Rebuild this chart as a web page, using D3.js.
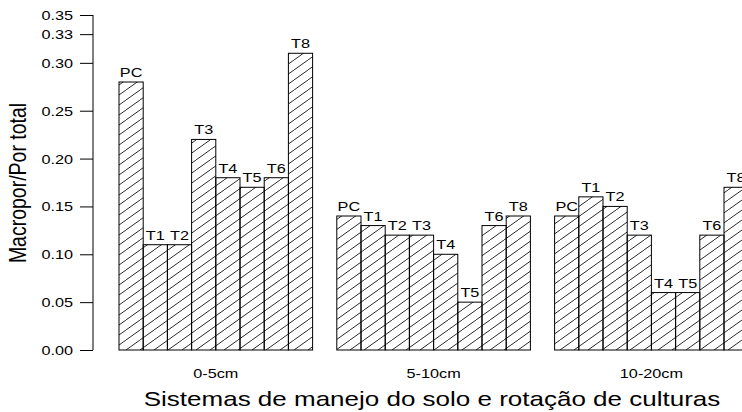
<!DOCTYPE html>
<html>
<head>
<meta charset="utf-8">
<script src="https://cdn.jsdelivr.net/npm/d3@7"></script>
<style>
  html, body { margin: 0; padding: 0; background: #fff; }
  svg { display: block; font-family: "Liberation Sans", Arial, Helvetica, sans-serif; }
  svg text { font-family: "Liberation Sans", Arial, Helvetica, sans-serif; fill: #000; }
</style>
</head>
<body>
<svg id="chart" width="742" height="412"></svg>
<script>
// Soil depth layers and management systems
const depths = ["0-5cm", "5-10cm", "10-20cm"];
const systems = ["PC", "T1", "T2", "T3", "T4", "T5", "T6", "T8"];

// Macroporosity / total porosity per system, one array per depth
const ratio0to5 = [0.28, 0.11, 0.11, 0.22, 0.18, 0.17, 0.18, 0.31];
const ratio5to10 = [0.14, 0.13, 0.12, 0.12, 0.10, 0.05, 0.13, 0.14];
const ratio10to20 = [0.14, 0.16, 0.15, 0.12, 0.06, 0.06, 0.12, 0.17];

const yTicks = [0.00, 0.05, 0.10, 0.15, 0.20, 0.25, 0.30, 0.33, 0.35];

const seriesByDepth = [ratio0to5, ratio5to10, ratio10to20];

// Text is drawn wide, as on a horizontally stretched device
const SX = 1.3;

const svg = d3.select("#chart");

// Bar slots: one empty slot between depth groups
const slotsPerGroup = systems.length + 1;
const slotWidth = 24.2;
const x0 = 119 - slotWidth; // first group starts after one gap slot

const y = d3.scaleLinear().domain([0, 0.35]).range([350, 15]);

// Diagonal hatching shared by all bars: one line per tile, tiles join up
const defs = svg.append("defs");
const hw = 14, hh = 10;
const pat = defs.append("pattern")
  .attr("id", "hatch")
  .attr("patternUnits", "userSpaceOnUse")
  .attr("width", hw)
  .attr("height", hh);
pat.append("path")
  .attr("d", `M${-hw},${2 * hh}L${2 * hw},${-hh}`)
  .attr("stroke", "#111")
  .attr("stroke-width", 0.9)
  .attr("fill", "none");

const bars = [];
seriesByDepth.forEach((vals, g) => {
  vals.forEach((v, i) => {
    const slot = g * slotsPerGroup + 1 + i;
    bars.push({ g, i, v, name: systems[i], x: x0 + slot * slotWidth });
  });
});

const barG = svg.append("g");
barG.selectAll("rect.bar")
  .data(bars)
  .join("rect")
  .attr("class", "bar")
  .attr("x", d => d.x)
  .attr("y", d => y(d.v))
  .attr("width", slotWidth)
  .attr("height", d => y(0) - y(d.v))
  .attr("fill", "url(#hatch)")
  .attr("stroke", "#000")
  .attr("stroke-width", 1);

barG.selectAll("text.lbl")
  .data(bars)
  .join("text")
  .attr("class", "lbl")
  .attr("transform", d => `translate(${d.x + slotWidth / 2},${y(d.v) - 5}) scale(${SX},1)`)
  .attr("text-anchor", "middle")
  .attr("font-size", 12.5)
  .text(d => d.name);

// Group labels under each depth cluster
svg.selectAll("text.grp")
  .data(depths)
  .join("text")
  .attr("class", "grp")
  .attr("transform", (d, g) =>
    `translate(${x0 + (g * slotsPerGroup + 1 + systems.length / 2) * slotWidth},378) scale(${SX},1)`)
  .attr("text-anchor", "middle")
  .attr("font-size", 12.5)
  .text(d => d);

// Y axis
const yAxis = d3.axisLeft(y)
  .tickValues(yTicks)
  .tickFormat(d3.format(".2f"))
  .tickSize(13)
  .tickPadding(7);
const ag = svg.append("g").attr("transform", "translate(93,0)").call(yAxis);
ag.select(".domain").attr("d", `M0,${y(0)}V${y(0.35)}`).attr("stroke", "#000");
ag.selectAll(".tick line").attr("stroke", "#000");
ag.selectAll(".tick text")
  .attr("x", null)
  .attr("dy", "0.36em")
  .attr("transform", `translate(-20,0) scale(${SX},1)`)
  .attr("font-size", 12.5)
  .attr("font-family", null);

// Axis titles
svg.append("text")
  .attr("transform", `translate(26,183) scale(1.2,1) rotate(-90)`)
  .attr("text-anchor", "middle")
  .attr("font-size", 19.5)
  .text("Macropor/Por total");

svg.append("text")
  .attr("transform", `translate(432,406) scale(${SX},1)`)
  .attr("text-anchor", "middle")
  .attr("font-size", 20)
  .text("Sistemas de manejo do solo e rotação de culturas");
</script>
</body>
</html>
